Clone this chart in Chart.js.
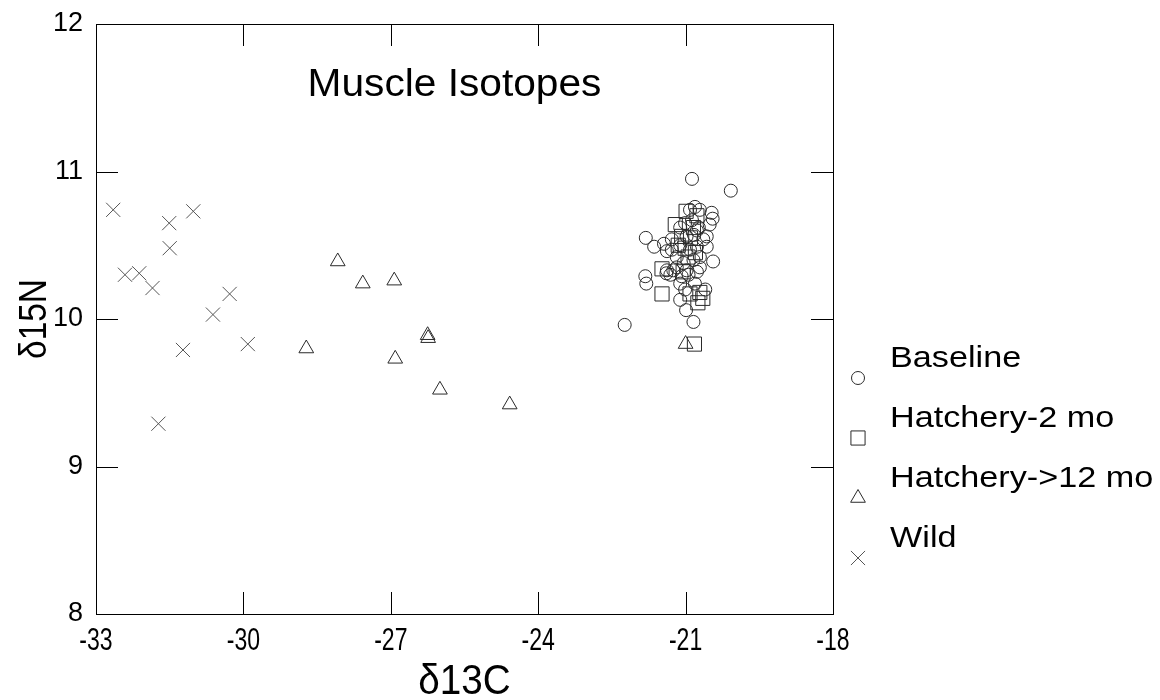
<!DOCTYPE html>
<html><head><meta charset="utf-8">
<script src="https://cdn.jsdelivr.net/npm/chart.js@4/dist/chart.umd.min.js"></script>
<style>html,body{margin:0;padding:0;background:#fff}canvas{display:block}</style>
</head><body>
<canvas id="c" width="1160" height="700"></canvas>
<script>
// ---- data ----
const seriesNames = ['Baseline', 'Hatchery-2 mo', 'Hatchery->12 mo', 'Wild'];
const chartTitle = 'Muscle Isotopes';
const xTitle = 'δ13C';
const yTitle = 'δ15N';
const xTicks = [-33, -30, -27, -24, -21, -18];
const yTicks = [8, 9, 10, 11, 12];

const baselineD13C = [-20.87,-20.08,-20.81,-20.47,-20.45,-20.91,-21.81,-21.64,-20.57,-20.57,-20.44,-21.82,-21.80,-21.39,-20.77,-21.11,-21.11,-20.99,-20.84,-22.24,-20.60,-21.28,-21.11,-20.98,-21.28,-21.18,-21.04,-21.25,-20.98,-20.84,-20.71,-20.87,-20.77,-20.71,-20.51,-20.64,-21.44,-21.38,-21.18,-21.38,-21.08,-20.94,-20.77,-20.91,-20.71,-21.11,-21.01,-20.81,-21.01,-21.31,-20.73,-20.83];
const baselineD15N = [10.95,10.87,10.76,10.72,10.68,10.74,10.55,10.49,10.56,10.49,10.39,10.29,10.24,10.31,10.32,10.24,10.13,10.06,9.98,9.96,10.20,10.54,10.62,10.56,10.47,10.42,10.38,10.33,10.33,10.40,10.35,10.67,10.60,10.74,10.64,10.54,10.51,10.46,10.35,10.33,10.29,10.30,10.49,10.47,10.42,10.50,10.65,10.24,10.20,10.30,10.62,10.57];

const hatch2D13C = [-20.99,-21.21,-21.08,-21.01,-21.48,-21.48,-20.91,-20.71,-20.75,-20.65,-20.82,-20.84,-20.95,-20.90,-21.15,-20.80,-21.05,-20.77];
const hatch2D15N = [10.73,10.64,10.56,10.48,10.34,10.17,10.17,10.18,10.11,10.14,9.83,10.62,10.42,10.55,10.50,10.45,10.32,10.70];

const hatch12D13C = [-28.08,-27.57,-26.93,-26.25,-26.24,-28.72,-26.91,-26.00,-24.58,-21.00];
const hatch12D15N = [10.39,10.24,10.26,9.89,9.87,9.80,9.73,9.52,9.42,9.83];

const wildD13C = [-32.65,-31.51,-31.02,-31.50,-32.41,-32.12,-31.85,-30.28,-30.62,-29.91,-31.23,-31.73];
const wildD15N = [10.74,10.65,10.73,10.48,10.30,10.31,10.21,10.17,10.03,9.83,9.79,9.29];

// ---- build ----
const pts = (xs, ys) => xs.map((x, i) => ({x: x, y: ys[i]}));
const styles = [
  {pointStyle: 'circle', radius: 6.5, color: '#2a2a2a'},
  {pointStyle: 'rect', radius: 10, color: '#2a2a2a'},
  {pointStyle: 'triangle', radius: 8.5, color: '#2a2a2a'},
  {pointStyle: 'crossRot', radius: 10, color: '#555555'}
];
const seriesData = [
  pts(baselineD13C, baselineD15N),
  pts(hatch2D13C, hatch2D15N),
  pts(hatch12D13C, hatch12D15N),
  pts(wildD13C, wildD15N)
];
const datasets = seriesNames.map((name, i) => ({
  label: name,
  data: seriesData[i],
  pointStyle: styles[i].pointStyle,
  pointRadius: styles[i].radius,
  pointHoverRadius: styles[i].radius,
  pointBorderWidth: 1,
  pointBorderColor: styles[i].color,
  pointBackgroundColor: 'rgba(0,0,0,0)',
  showLine: false
}));

const FONT = "'Liberation Sans', Arial, sans-serif";

function drawMarker(ctx, style, r, color, x, y) {
  ctx.save();
  ctx.strokeStyle = color;
  ctx.lineWidth = 1;
  ctx.fillStyle = 'rgba(0,0,0,0)';
  if (Chart.helpers && Chart.helpers.drawPoint) {
    Chart.helpers.drawPoint(ctx, {pointStyle: style, radius: r, rotation: 0, borderWidth: 1}, x, y);
  }
  ctx.restore();
}

const framePlugin = {
  id: 'frame',
  afterDatasetsDraw(chart) {
    const {ctx, chartArea: a, scales} = chart;
    const xs = scales.x, ys = scales.y;
    const tl = 22;
    ctx.save();
    ctx.strokeStyle = '#000';
    ctx.lineWidth = 1;
    ctx.strokeRect(Math.round(a.left) + 0.5, Math.round(a.top) + 0.5, Math.round(a.right - a.left), Math.round(a.bottom - a.top));
    ctx.beginPath();
    xs.ticks.forEach(t => {
      if (t.value <= xs.min || t.value >= xs.max) return;
      const px = Math.round(xs.getPixelForValue(t.value)) + 0.5;
      ctx.moveTo(px, a.bottom); ctx.lineTo(px, a.bottom - tl);
      ctx.moveTo(px, a.top); ctx.lineTo(px, a.top + tl);
    });
    ys.ticks.forEach(t => {
      if (t.value <= ys.min || t.value >= ys.max) return;
      const py = Math.round(ys.getPixelForValue(t.value)) + 0.5;
      ctx.moveTo(a.left, py); ctx.lineTo(a.left + tl, py);
      ctx.moveTo(a.right, py); ctx.lineTo(a.right - tl, py);
    });
    ctx.stroke();

    // title inside plot
    ctx.fillStyle = '#000';
    ctx.font = '38px ' + FONT;
    ctx.textAlign = 'center';
    ctx.textBaseline = 'alphabetic';
    ctx.save();
    ctx.translate((a.left + a.right) / 2 - 10, a.top + 72);
    ctx.scale(1.07, 1);
    ctx.fillText(chartTitle, 0, 0);
    ctx.restore();

    // x tick labels (condensed)
    ctx.font = '32px ' + FONT;
    ctx.textBaseline = 'middle';
    xs.ticks.forEach(t => {
      const px = xs.getPixelForValue(t.value);
      ctx.save();
      ctx.translate(px, a.bottom + 27);
      ctx.scale(0.72, 1);
      ctx.fillText(String(t.value), 0, 0);
      ctx.restore();
    });

    // axis titles
    ctx.font = '42px ' + FONT;
    ctx.save();
    ctx.translate((a.left + a.right) / 2, a.bottom + 68);
    ctx.scale(0.92, 1);
    ctx.fillText(xTitle, 0, 0);
    ctx.restore();

    ctx.font = '38px ' + FONT;
    ctx.save();
    ctx.translate(36, (a.top + a.bottom) / 2);
    ctx.rotate(-Math.PI / 2);
    ctx.scale(0.88, 1);
    ctx.fillText(yTitle, 0, 0);
    ctx.restore();

    // legend
    ctx.font = '30px ' + FONT;
    ctx.textAlign = 'left';
    ctx.textBaseline = 'alphabetic';
    seriesNames.forEach((name, i) => {
      const base = 367 + 60 * i;
      ctx.save();
      ctx.translate(a.right + 57, base);
      ctx.scale(1.14, 1);
      ctx.fillText(name, 0, 0);
      ctx.restore();
      drawMarker(ctx, styles[i].pointStyle, styles[i].radius, styles[i].color, a.right + 25, base + 11);
    });
    ctx.restore();
  }
};

new Chart(document.getElementById('c'), {
  type: 'scatter',
  data: {datasets: datasets},
  options: {
    responsive: false,
    animation: false,
    devicePixelRatio: 1,
    layout: {padding: {left: 0, right: 327, top: 24, bottom: 0}},
    plugins: {legend: {display: false}, tooltip: {enabled: false}, title: {display: false}},
    scales: {
      x: {
        type: 'linear', min: xTicks[0], max: xTicks[xTicks.length - 1],
        afterBuildTicks: s => { s.ticks = xTicks.map(v => ({value: v})); },
        afterFit: s => { s.height = 86; s.paddingLeft = 0; s.paddingRight = 0; },
        grid: {display: false, drawTicks: false},
        border: {display: false},
        ticks: {display: false}
      },
      y: {
        type: 'linear', min: yTicks[0], max: yTicks[yTicks.length - 1],
        afterBuildTicks: s => { s.ticks = yTicks.map(v => ({value: v})); },
        afterFit: s => { s.width = 96; s.paddingTop = 0; s.paddingBottom = 0; },
        grid: {display: false, drawTicks: false},
        border: {display: false},
        ticks: {color: '#000', padding: 13, font: {size: 27, family: FONT}}
      }
    }
  },
  plugins: [framePlugin]
});
</script>
</body></html>
